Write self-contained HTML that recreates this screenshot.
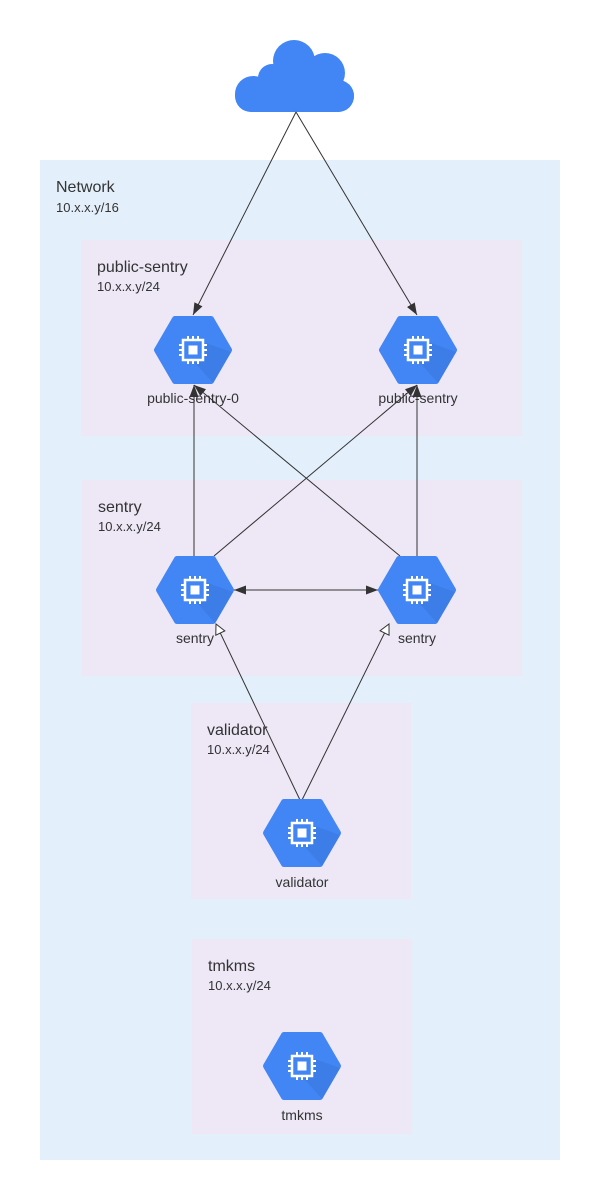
<!DOCTYPE html>
<html><head><style>body{margin:0;background:#fff}svg{display:block}text{font-family:"Liberation Sans",sans-serif}</style></head><body>
<svg width="600" height="1200" viewBox="0 0 600 1200" xmlns="http://www.w3.org/2000/svg">
<defs>
<marker id="a" viewBox="0 0 12 12" refX="12" refY="6" markerWidth="12" markerHeight="12" markerUnits="userSpaceOnUse" orient="auto"><path d="M0,1.5 L12,6 L0,10.5 Z" fill="#333"/></marker>
<marker id="as" viewBox="0 0 12 12" refX="0" refY="6" markerWidth="12" markerHeight="12" markerUnits="userSpaceOnUse" orient="auto"><path d="M12,1.5 L0,6 L12,10.5 Z" fill="#333"/></marker>
<marker id="h" viewBox="0 0 12 12" refX="11" refY="6" markerWidth="12" markerHeight="12" markerUnits="userSpaceOnUse" orient="auto"><path d="M1,1 L11,6 L1,11 Z" fill="#fff" stroke="#333" stroke-width="1"/></marker>
<g id="n">
<path d="M-36,0 L-18,-31 L18,-31 L36,0 L18,31 L-18,31 Z" fill="#4285f4" stroke="#4285f4" stroke-width="6" stroke-linejoin="round"/>
<path d="M-4,6 L10,-8 L38,2 L20,33 Z" fill="#3a78e0" opacity="0.6"/>
<path d="M-10,-10 L10,-10 L10,10 L-10,10 Z" fill="#4285f4" stroke="#fff" stroke-width="2.5"/>
<rect x="-4.5" y="-4.5" width="9" height="9" fill="#fff"/>
<g stroke="#fff" stroke-width="2">
<path d="M-5,-10v-4M0,-10v-4M5,-10v-4M-5,10v4M0,10v4M5,10v4M-10,-5h-4M-10,0h-4M-10,5h-4M10,-5h4M10,0h4M10,5h4"/>
</g>
</g>
</defs>
<rect x="40" y="160" width="520" height="1000" fill="#e3f0fc"/>
<text x="56" y="192" font-size="16" fill="#333">Network</text>
<text x="56" y="212" font-size="13" fill="#333">10.x.x.y/16</text>
<rect x="81" y="240" width="441" height="196" fill="#ede7f6"/>
<text x="97" y="272" font-size="16" fill="#333">public-sentry</text>
<text x="97" y="291" font-size="13" fill="#333">10.x.x.y/24</text>
<rect x="82" y="480" width="440" height="196" fill="#ede7f6"/>
<text x="98" y="512" font-size="16" fill="#333">sentry</text>
<text x="98" y="531" font-size="13" fill="#333">10.x.x.y/24</text>
<rect x="191" y="703" width="220" height="196" fill="#ede7f6"/>
<text x="207" y="735" font-size="16" fill="#333">validator</text>
<text x="207" y="754" font-size="13" fill="#333">10.x.x.y/24</text>
<rect x="192" y="939" width="220" height="195" fill="#ede7f6"/>
<text x="208" y="971" font-size="16" fill="#333">tmkms</text>
<text x="208" y="990" font-size="13" fill="#333">10.x.x.y/24</text>
<g fill="#4285f4">
<rect x="235" y="80" width="119" height="32" rx="16"/>
<rect x="264" y="74" width="76" height="34"/>
<circle cx="253" cy="94" r="18"/>
<circle cx="272" cy="78" r="14"/>
<circle cx="294" cy="61" r="21"/>
<circle cx="325" cy="73" r="20"/>
<circle cx="338" cy="96" r="16"/>
</g>
<g stroke="#333" stroke-width="1" fill="none">
<line x1="296" y1="112" x2="193" y2="315" marker-end="url(#a)"/>
<line x1="296" y1="112" x2="417" y2="315" marker-end="url(#a)"/>
<line x1="194" y1="556" x2="194" y2="385" marker-end="url(#a)"/>
<line x1="214" y1="556" x2="417" y2="385" marker-end="url(#a)"/>
<line x1="400" y1="556" x2="194" y2="385" marker-end="url(#a)"/>
<line x1="417" y1="556" x2="417" y2="385" marker-end="url(#a)"/>
<line x1="234" y1="590" x2="378" y2="590" marker-start="url(#as)" marker-end="url(#a)"/>
<line x1="300" y1="800" x2="216" y2="624" marker-end="url(#h)"/>
<line x1="302" y1="800" x2="389" y2="624" marker-end="url(#h)"/>
</g>
<use href="#n" x="193" y="350"/>
<use href="#n" x="418" y="350"/>
<use href="#n" x="195" y="590"/>
<use href="#n" x="417" y="590"/>
<use href="#n" x="302" y="833"/>
<use href="#n" x="302" y="1066"/>
<g font-size="14" fill="#333" text-anchor="middle">
<text x="193" y="403">public-sentry-0</text>
<text x="418" y="403">public-sentry</text>
<text x="195" y="643">sentry</text>
<text x="417" y="643">sentry</text>
<text x="302" y="887">validator</text>
<text x="302" y="1120">tmkms</text>
</g>
</svg>
</body></html>
